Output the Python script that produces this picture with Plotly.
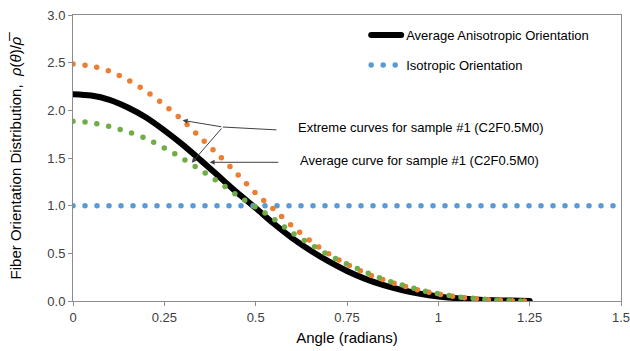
import plotly.graph_objects as go

# ---------------- data ----------------
angle = [0.00, 0.05, 0.10, 0.15, 0.20, 0.25, 0.30, 0.35, 0.40, 0.45, 0.50,
         0.55, 0.60, 0.65, 0.70, 0.75, 0.80, 0.85, 0.90, 0.95, 1.00,
         1.05, 1.10, 1.15, 1.20, 1.25]

avg_aniso = [2.17, 2.155, 2.11, 2.03, 1.925, 1.79, 1.64, 1.475, 1.305, 1.135, 0.975,
             0.81, 0.66, 0.53, 0.415, 0.315, 0.232, 0.166, 0.115, 0.076, 0.048,
             0.029, 0.016, 0.008, 0.004, 0.0]

extreme_high = [2.485, 2.465, 2.41, 2.32, 2.20, 2.055, 1.895, 1.71, 1.525, 1.33, 1.13,
                0.96, 0.785, 0.63, 0.495, 0.385, 0.294, 0.222, 0.162, 0.112, 0.072,
                0.043, 0.024, 0.011, 0.004, 0.0]

extreme_low = [1.885, 1.87, 1.83, 1.775, 1.705, 1.605, 1.495, 1.372, 1.245, 1.108, 0.985,
               0.86, 0.715, 0.594, 0.482, 0.388, 0.304, 0.227, 0.17, 0.116, 0.076,
               0.046, 0.026, 0.011, 0.003, 0.0]

iso_angle = [0.0, 0.25, 0.5, 0.75, 1.0, 1.25, 1.5]
iso_values = [1.0, 1.0, 1.0, 1.0, 1.0, 1.0, 1.0]

x_tickvals = [0, 0.25, 0.5, 0.75, 1, 1.25, 1.5]
x_ticktext = ["0", "0.25", "0.5", "0.75", "1", "1.25", "1.5"]
y_tickvals = [0, 0.5, 1.0, 1.5, 2.0, 2.5, 3.0]
y_ticktext = ["0.0", "0.5", "1.0", "1.5", "2.0", "2.5", "3.0"]

# ---------------- styles ----------------
FONT = "Liberation Sans, Arial, sans-serif"
BLACK = "#000000"
ORANGE = "#ED7D31"
GREEN = "#70AD47"
BLUE = "#5B9BD5"
AXIS = "#8C8C8C"
ARROW = "#404040"
DOTS = "0px,12px"

fig = go.Figure()

fig.add_trace(go.Scatter(x=angle, y=avg_aniso, mode="lines",
                         name="Average Anisotropic Orientation", legendgroup="g1",
                         line=dict(color=BLACK, width=6, shape="spline", smoothing=0.8)))
fig.add_trace(go.Scatter(x=iso_angle, y=iso_values, mode="lines",
                         name="Isotropic Orientation", legendgroup="g2",
                         line=dict(color=BLUE, width=5.5, dash=DOTS)))
fig.add_trace(go.Scatter(x=angle, y=extreme_high, mode="lines",
                         name="Extreme (upper)", showlegend=False,
                         line=dict(color=ORANGE, width=5.5, dash=DOTS,
                                   shape="spline", smoothing=0.8)))
fig.add_trace(go.Scatter(x=angle, y=extreme_low, mode="lines",
                         name="Extreme (lower)", showlegend=False,
                         line=dict(color=GREEN, width=5.5, dash=DOTS,
                                   shape="spline", smoothing=0.8)))

ann_font = dict(family=FONT, size=13, color="#000000")
annotations = [
    dict(x=0.610, y=1.815, xref="x", yref="y", text="Extreme curves for sample #1 (C2F0.5M0)",
         showarrow=False, xanchor="left", yanchor="middle", font=ann_font),
    dict(x=0.616, y=1.469, xref="x", yref="y", text="Average curve for sample #1 (C2F0.5M0)",
         showarrow=False, xanchor="left", yanchor="middle", font=ann_font),
    # connector from the "Extreme" label to the branching point
    dict(x=0.410, y=1.825, ax=0.561, ay=1.794, xref="x", yref="y", axref="x", ayref="y",
         text="", showarrow=True, arrowhead=0, arrowwidth=1, arrowcolor=ARROW),
    # branch to upper extreme curve
    dict(x=angle[6], y=extreme_high[6], ax=0.410, ay=1.825, xref="x", yref="y",
         axref="x", ayref="y", text="", showarrow=True, arrowhead=2, arrowsize=1,
         arrowwidth=1, arrowcolor=ARROW),
    # branch to lower extreme curve
    dict(x=0.325, y=1.45, ax=0.410, ay=1.825, xref="x", yref="y",
         axref="x", ayref="y", text="", showarrow=True, arrowhead=2, arrowsize=1,
         arrowwidth=1, arrowcolor=ARROW),
    # arrow to the average curve
    dict(x=0.374, y=1.455, ax=0.566, ay=1.455, xref="x", yref="y",
         axref="x", ayref="y", text="", showarrow=True, arrowhead=2, arrowsize=1,
         arrowwidth=1, arrowcolor=ARROW),
]

fig.update_layout(
    width=630, height=351,
    margin=dict(l=73, r=9, t=15, b=50, autoexpand=False),
    paper_bgcolor="white", plot_bgcolor="white",
    font=dict(family=FONT, size=13, color="#000000"),
    showlegend=True,
    legend=dict(x=0.535, y=0.982, xanchor="left", yanchor="top",
                bgcolor="rgba(0,0,0,0)", font=dict(family=FONT, size=13),
                tracegroupgap=10, itemwidth=30, traceorder="grouped"),
    annotations=annotations,
)

fig.update_xaxes(range=[0, 1.5], tickvals=x_tickvals, ticktext=x_ticktext,
                 showgrid=False, zeroline=False, showline=True, linecolor=AXIS,
                 linewidth=1, mirror=True, ticks="outside", ticklen=4, tickcolor=AXIS,
                 ticklabeloverflow="allow",
                 tickfont=dict(family=FONT, size=13, color="#404040"),
                 title=dict(text="Angle (radians)", standoff=8,
                            font=dict(family=FONT, size=15, color="#000000")))
fig.update_yaxes(range=[0, 3], tickvals=y_tickvals, ticktext=y_ticktext,
                 showgrid=False, zeroline=False, showline=True, linecolor=AXIS,
                 linewidth=1, mirror=True, ticks="outside", ticklen=4, tickcolor=AXIS,
                 tickfont=dict(family=FONT, size=13, color="#404040"),
                 title=dict(text="Fiber Orientation Distribution,  <i>ρ</i>(<i>θ</i>)/<i>ρ̅</i>",
                            standoff=22,
                            font=dict(family=FONT, size=15, color="#000000")))

post = ("document.body.style.margin='0';"
        "var s=document.createElement('style');"
        "s.textContent='body{margin:0;} .js-line{stroke-linecap:round;}';"
        "document.head.appendChild(s);")

fig.write_html("out.html", post_script=post, config={"displayModeBar": False})
